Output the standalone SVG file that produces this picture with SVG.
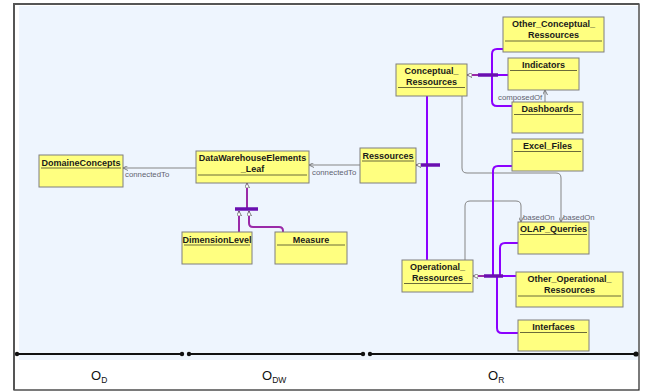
<svg xmlns="http://www.w3.org/2000/svg" width="652" height="392" viewBox="0 0 652 392">
<style>
.box{fill:#ffff80;stroke:#7f7f7f;stroke-width:1}
.sep{stroke:#6b6b3a;stroke-width:1}
.nt{font-family:"Liberation Sans",Arial,sans-serif;font-size:9px;font-weight:bold;fill:#1a1a1a;text-anchor:middle}
.lb{font-family:"Liberation Sans",Arial,sans-serif;font-size:7.8px;fill:#5f6270}
.as{fill:none;stroke:#858585;stroke-width:1}
.gv{fill:none;stroke:#8b00ff;stroke-width:2}
.gm{fill:none;stroke:#9a2aa8;stroke-width:2}
.bar{fill:none;stroke:#6a0fb0;stroke-width:3.5}
.ax{stroke:#111;stroke-width:2}
.axl{font-family:"Liberation Sans",Arial,sans-serif;font-size:13px;fill:#111}
</style>
<defs>
<marker id="open" viewBox="0 0 8 8" refX="8" refY="4" markerWidth="5" markerHeight="5" markerUnits="userSpaceOnUse" orient="auto">
<path d="M0,0 L8,4 L0,8" fill="none" stroke="#666" stroke-width="1.3"/>
</marker>
<marker id="tri" viewBox="0 0 8 8" refX="8" refY="4" markerWidth="5" markerHeight="5" markerUnits="userSpaceOnUse" orient="auto">
<path d="M0,0 L8,4 L0,8 Z" fill="#fff" stroke="#555" stroke-width="1.2"/>
</marker>
</defs>
<rect x="14" y="4" width="625" height="386" fill="#fff" stroke="#222" stroke-width="1.2"/>
<path d="M14,390 V4 H639" fill="none" stroke="#555" stroke-width="2"/>
<rect x="19" y="6" width="619" height="354" fill="#eef5fe"/>

<g id="connectors">
<path class="as" d="M196,168 H123" marker-end="url(#open)"/>
<path class="as" d="M360,165 H309" marker-end="url(#open)"/>
<path class="as" d="M545,102 V90" marker-end="url(#open)"/>
<path class="as" d="M462,96 V168 Q462,173 467,173 H556 Q561,173 561,178 V222" marker-end="url(#open)"/>
<path class="as" d="M465,260 V206 Q465,201 470,201 H516 Q521,201 521,206 V222" marker-end="url(#open)"/>

<path class="gm" d="M247,209 V186"/>
<path class="gm" d="M247,190 V183" stroke-width="1" marker-end="url(#tri)"/>
<path class="gm" d="M239,232 V214"/>
<path class="gm" d="M239,216 V211" stroke-width="1" marker-end="url(#tri)"/>
<path class="gm" d="M249,214 V223 Q249,227 253,227 H279 Q283,227 283,231 V232"/>
<path class="gm" d="M249,216 V211" stroke-width="1" marker-end="url(#tri)"/>
<path class="bar" d="M235,209 H258" stroke="#7d12a8"/>

<path class="gv" d="M427,96 V260"/>
<path class="gv" d="M440,165 H421"/>
<path class="gm" d="M424,165 H416" stroke-width="1" marker-end="url(#tri)"/>
<path class="bar" d="M421,165 H440"/>

<path class="gm" d="M480,75 H470" stroke="#a3308a" stroke-width="1.6"/>
<path class="gm" d="M474,75 H467" stroke-width="1" marker-end="url(#tri)"/>
<path class="gv" d="M498,75 H508"/>
<path class="gv" d="M503,49 H497 Q492,49 492,54 V101 Q492,106 497,106 H512"/>
<path class="bar" d="M478,75 H498"/>

<path class="gm" d="M485,276 H476" stroke="#a3308a" stroke-width="1.6"/>
<path class="gm" d="M480,276 H473" stroke-width="1" marker-end="url(#tri)"/>
<path class="gv" d="M503,276 H516"/>
<path class="gv" d="M512,166 H498 Q493,166 493,171 V276"/>
<path class="gv" d="M518,243 H505 Q500,243 500,248 V276"/>
<path class="gv" d="M497,276 V328 Q497,333 502,333 H518"/>
<path class="bar" d="M484,276 H503"/>
</g>

<g id="labels">
<text class="lb" x="125" y="177">connectedTo</text>
<text class="lb" x="312" y="175">connectedTo</text>
<text class="lb" x="498" y="100">composedOf</text>
<text class="lb" x="523" y="220">basedOn</text>
<text class="lb" x="563" y="220">basedOn</text>
</g>

<g id="DomaineConcepts">
<rect class="box" x="39" y="155" width="84" height="32"/>
<line class="sep" x1="41" y1="168" x2="121" y2="168"/>
<text class="nt" x="81" y="165.5">DomaineConcepts</text>
</g>
<g id="DataWarehouseElements_Leaf">
<rect class="box" x="196" y="151" width="113" height="32"/>
<line class="sep" x1="198" y1="175" x2="307" y2="175"/>
<text class="nt" x="252.5" y="161">DataWarehouseElements</text>
<text class="nt" x="252.5" y="172">_Leaf</text>
</g>
<g id="Ressources">
<rect class="box" x="360" y="148" width="56" height="35"/>
<line class="sep" x1="362" y1="161" x2="414" y2="161"/>
<text class="nt" x="388" y="158.5">Ressources</text>
</g>
<g id="DimensionLevel">
<rect class="box" x="182" y="232" width="70" height="32"/>
<line class="sep" x1="184" y1="245" x2="250" y2="245"/>
<text class="nt" x="217" y="242.5">DimensionLevel</text>
</g>
<g id="Measure">
<rect class="box" x="275" y="232" width="72" height="32"/>
<line class="sep" x1="277" y1="245" x2="345" y2="245"/>
<text class="nt" x="311" y="242.5">Measure</text>
</g>
<g id="Conceptual_Ressources">
<rect class="box" x="396" y="64" width="71" height="32"/>
<line class="sep" x1="398" y1="87.5" x2="465" y2="87.5"/>
<text class="nt" x="431.5" y="74">Conceptual_</text>
<text class="nt" x="431.5" y="85">Ressources</text>
</g>
<g id="Other_Conceptual_Ressources">
<rect class="box" x="503" y="17" width="101" height="35"/>
<line class="sep" x1="505" y1="41" x2="602" y2="41"/>
<text class="nt" x="553.5" y="27">Other_Conceptual_</text>
<text class="nt" x="553.5" y="38">Ressources</text>
</g>
<g id="Indicators">
<rect class="box" x="508" y="58" width="71" height="32"/>
<line class="sep" x1="510" y1="70.5" x2="577" y2="70.5"/>
<text class="nt" x="543.5" y="68">Indicators</text>
</g>
<g id="Dashboards">
<rect class="box" x="512" y="102" width="71" height="31"/>
<line class="sep" x1="514" y1="114.5" x2="581" y2="114.5"/>
<text class="nt" x="547.5" y="112">Dashboards</text>
</g>
<g id="Excel_Files">
<rect class="box" x="512" y="139" width="71" height="32"/>
<line class="sep" x1="514" y1="151.5" x2="581" y2="151.5"/>
<text class="nt" x="547.5" y="149">Excel_Files</text>
</g>
<g id="OLAP_Querries">
<rect class="box" x="518" y="222" width="71" height="32"/>
<line class="sep" x1="520" y1="234.5" x2="587" y2="234.5"/>
<text class="nt" x="553.5" y="232">OLAP_Querries</text>
</g>
<g id="Operational_Ressources">
<rect class="box" x="402" y="260" width="71" height="32"/>
<line class="sep" x1="404" y1="283.5" x2="471" y2="283.5"/>
<text class="nt" x="437.5" y="270">Operational_</text>
<text class="nt" x="437.5" y="281">Ressources</text>
</g>
<g id="Other_Operational_Ressources">
<rect class="box" x="516" y="272" width="107" height="35"/>
<line class="sep" x1="518" y1="296" x2="621" y2="296"/>
<text class="nt" x="569.5" y="282">Other_Operational_</text>
<text class="nt" x="569.5" y="293">Ressources</text>
</g>
<g id="Interfaces">
<rect class="box" x="518" y="320" width="71" height="31"/>
<line class="sep" x1="520" y1="332.5" x2="587" y2="332.5"/>
<text class="nt" x="553.5" y="330">Interfaces</text>
</g>

<g id="axis">
<line class="ax" x1="17" y1="354" x2="182" y2="354"/>
<line class="ax" x1="189" y1="354" x2="363" y2="354"/>
<line class="ax" x1="370" y1="354" x2="636" y2="354"/>
<circle cx="17" cy="354" r="2.2" fill="#111"/>
<circle cx="182" cy="354" r="2.2" fill="#111"/>
<circle cx="189" cy="354" r="2.2" fill="#111"/>
<circle cx="363" cy="354" r="2.2" fill="#111"/>
<circle cx="370" cy="354" r="2.2" fill="#111"/>
<circle cx="636" cy="354" r="2.6" fill="#111"/>
<text class="axl" x="91" y="380">O<tspan font-size="8.5" dy="3">D</tspan></text>
<text class="axl" x="262" y="380">O<tspan font-size="8.5" dy="3">DW</tspan></text>
<text class="axl" x="488" y="380">O<tspan font-size="8.5" dy="3">R</tspan></text>
</g>
</svg>
